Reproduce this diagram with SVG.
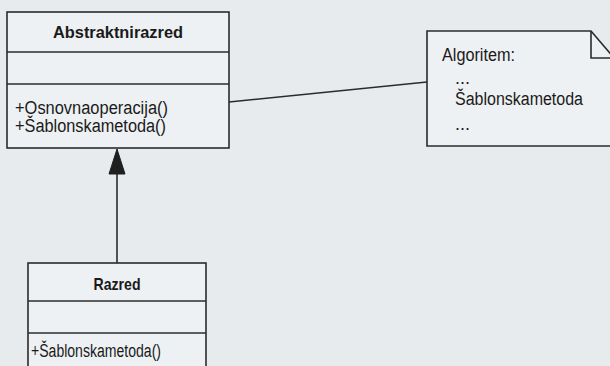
<svg xmlns="http://www.w3.org/2000/svg" width="610" height="366" viewBox="0 0 610 366">
<defs>
<style>
.box{fill:#eef1f3;stroke:#2b2b2b;stroke-width:1.6}
.ln{stroke:#2b2b2b;stroke-width:1.6;fill:none}
.t{font-family:"Liberation Sans Narrow","Liberation Sans",Arial,sans-serif;font-size:18px;fill:#1a1a1a}
.b{font-weight:bold;font-size:17px}
</style>
</defs>
<rect width="610" height="366" fill="#e7ebee"/>
<g id="connectors">
<line class="ln" x1="229" y1="102" x2="427" y2="82"/>
<line class="ln" x1="117" y1="172" x2="117" y2="263"/>
<polygon points="117,149 109,174 125,174" fill="#1f1f1f" stroke="#1f1f1f" stroke-width="1"/>
</g>
<g id="abstraktnirazred">
<rect class="box" x="7" y="12" width="222" height="136"/>
<line class="ln" x1="7" y1="52" x2="229" y2="52"/>
<line class="ln" x1="7" y1="84" x2="229" y2="84"/>
<text class="t b" x="118" y="38" text-anchor="middle" textLength="130" lengthAdjust="spacingAndGlyphs">Abstraktnirazred</text>
<text class="t" x="15" y="114" textLength="153" lengthAdjust="spacingAndGlyphs">+Osnovnaoperacija()</text>
<text class="t" x="15" y="132" textLength="151" lengthAdjust="spacingAndGlyphs">+Šablonskametoda()</text>
</g>
<g id="razred">
<rect class="box" x="28" y="263" width="178" height="110"/>
<line class="ln" x1="28" y1="301" x2="206" y2="301"/>
<line class="ln" x1="28" y1="333" x2="206" y2="333"/>
<text class="t b" x="117" y="290" text-anchor="middle" textLength="47" lengthAdjust="spacingAndGlyphs">Razred</text>
<text class="t" x="31" y="357" textLength="130" lengthAdjust="spacingAndGlyphs">+Šablonskametoda()</text>
</g>
<g id="algoritem">
<path class="box" d="M427,31 L591,31 L614,58 L614,146 L427,146 Z"/>
<path class="ln" d="M591,31 L591,58 L614,58"/>
<text class="t" x="442" y="61" textLength="73" lengthAdjust="spacingAndGlyphs">Algoritem:</text>
<text class="t" x="455" y="84">...</text>
<text class="t" x="455" y="105" textLength="128" lengthAdjust="spacingAndGlyphs">Šablonskametoda</text>
<text class="t" x="455" y="130">...</text>
</g>
</svg>
